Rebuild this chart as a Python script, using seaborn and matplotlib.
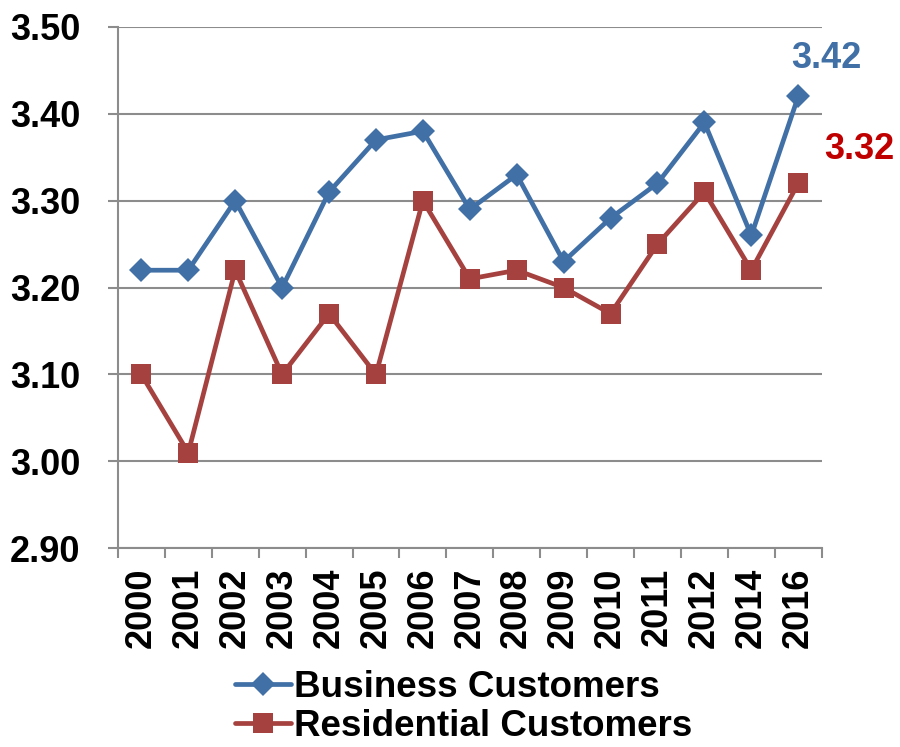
import matplotlib
matplotlib.use('Agg')
import matplotlib.pyplot as plt
import seaborn as sns
import pandas as pd
import numpy as np
from matplotlib.ticker import FixedLocator, MultipleLocator

years = ['2000', '2001', '2002', '2003', '2004', '2005', '2006', '2007',
         '2008', '2009', '2010', '2011', '2012', '2014', '2016']
business = [3.22, 3.22, 3.30, 3.20, 3.31, 3.37, 3.38, 3.29,
            3.33, 3.23, 3.28, 3.32, 3.39, 3.26, 3.42]
residential = [3.10, 3.01, 3.22, 3.10, 3.17, 3.10, 3.30, 3.21,
               3.22, 3.20, 3.17, 3.25, 3.31, 3.22, 3.32]

blue = '#4170A6'
red = '#A5423F'

sns.set_style('white')
plt.rcParams['font.family'] = ['Liberation Sans', 'DejaVu Sans']
plt.rcParams['font.weight'] = 'bold'
plt.rcParams['text.color'] = 'black'
plt.rcParams['xtick.color'] = 'black'
plt.rcParams['ytick.color'] = 'black'

df = pd.DataFrame({'pos': np.arange(len(years)), 'year': years,
                   'business': business, 'residential': residential})

fig = plt.figure(figsize=(9, 7.47), dpi=100)
ax = fig.add_axes([0.131, 0.266, 0.782, 0.698])

sns.lineplot(data=df, x='pos', y='business', ax=ax, color=blue, linewidth=3.4,
             marker='D', markersize=12.5, markeredgewidth=0,
             label='Business Customers')
sns.lineplot(data=df, x='pos', y='residential', ax=ax, color=red, linewidth=3.4,
             marker='s', markersize=14, markeredgewidth=0,
             label='Residential Customers')

ax.set_xlim(-0.5, len(years) - 0.5)
ax.set_ylim(2.90, 3.50)
ax.yaxis.set_major_locator(MultipleLocator(0.10))
ax.set_yticklabels([f'{v:.2f}' for v in ax.get_yticks()])
ax.yaxis.grid(True, color='#8C8C8C', linewidth=1.5)
ax.set_axisbelow(True)

ax.xaxis.set_major_locator(FixedLocator(df['pos']))
ax.set_xticklabels(years, rotation=90)
ax.xaxis.set_minor_locator(FixedLocator(np.arange(-0.5, len(years), 1)))
ax.tick_params(axis='x', which='major', length=0, pad=14, labelsize=26)
ax.tick_params(axis='x', which='minor', length=7, width=1.5,
               color='#8C8C8C', direction='out', bottom=True)
ax.tick_params(axis='y', length=7, width=1.5, color='#8C8C8C',
               direction='out', left=True, labelsize=26, pad=20)

for side in ['top', 'right']:
    ax.spines[side].set_visible(False)
for side in ['left', 'bottom']:
    ax.spines[side].set_color('#8C8C8C')
    ax.spines[side].set_linewidth(1.5)

ax.set_xlabel('')
ax.set_ylabel('')

ax.annotate(f'{business[-1]:.2f}', xy=(df['pos'].iloc[-1], business[-1]),
            xytext=(20, 15), textcoords='offset points', ha='center',
            va='bottom', color=blue, fontsize=26, fontweight='bold',
            annotation_clip=False)
ax.annotate(f'{residential[-1]:.2f}', xy=(df['pos'].iloc[-1], residential[-1]),
            xytext=(44, 24), textcoords='offset points', ha='center',
            va='center', color='#C00000', fontsize=26, fontweight='bold',
            annotation_clip=False)

ax.get_legend().remove()
handles, labels = ax.get_legend_handles_labels()
fig.legend(handles, labels, loc='lower left', bbox_to_anchor=(0.237, -0.026),
           frameon=False, fontsize=26.5, handlelength=1.5, handletextpad=0.1,
           labelspacing=0.12, borderaxespad=0.2)

fig.savefig('out.png', dpi=100)
